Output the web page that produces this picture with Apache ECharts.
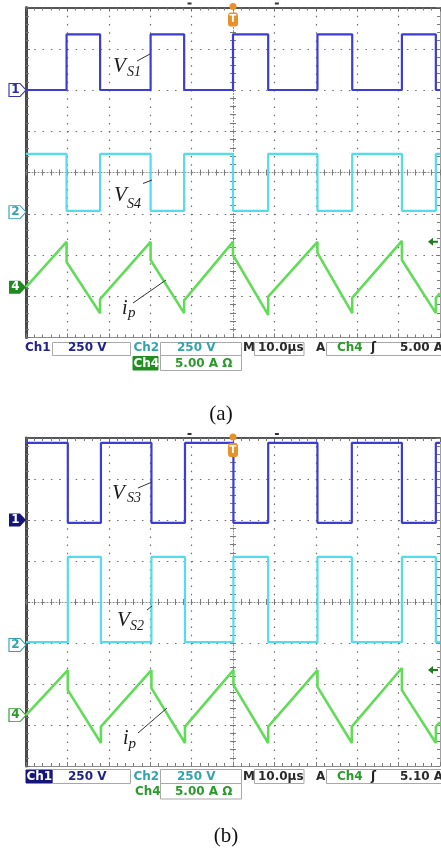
<!DOCTYPE html>
<html><head><meta charset="utf-8">
<script src="https://cdn.jsdelivr.net/npm/echarts@6/dist/echarts.min.js"></script>
<style>html,body{margin:0;padding:0;background:#fff}#c{width:441px;height:849px}</style>
</head><body><div id="c"></div>
<script>
// ---- values ----
// time in µs relative to the trigger (10 µs/div), level in divisions from screen centre
// panel (a)
const aRise = [-40.2, -19.9, 0.0, 20.4, 40.8];   // Ch1 rising edges = ip peaks
const aFall = [-32.1, -11.8, 8.5, 28.8, 49.0];   // Ch1 falling edges = ip troughs
const aCh1Low = 2.0, aCh1High = 3.35;
const aCh2Low = -0.93, aCh2High = 0.45;
const aIpStart = -2.78, aIpEnd = -2.93;
const aIpPeak = [-1.68, -1.68, -1.68, -1.68, -1.66];
const aIpDrop = [-2.17, -2.12, -2.00, -1.95, -2.12];
const aIpTrough = [-3.41, -3.41, -3.45, -3.41, -3.41];
const aIpJump = [-3.07, -3.10, -3.01, -3.04, -3.04];
// panel (b)
const bFall = [-39.9, -19.7, 0.1, 20.4, 40.8];   // Ch1 falling edges = ip peaks
const bRise = [-31.9, -11.6, 8.5, 28.7, 49.0];   // Ch1 rising edges = ip troughs
const bCh1Low = 1.93, bCh1High = 3.88;
const bCh2Low = -0.98, bCh2High = 1.10;
const bIpStart = -2.76, bIpEnd = -2.93;
const bIpPeak = [-1.66, -1.66, -1.66, -1.66, -1.61];
const bIpDrop = [-2.15, -2.10, -2.02, -2.07, -2.15];
const bIpTrough = [-3.44, -3.44, -3.44, -3.44, -3.44];
const bIpJump = [-3.04, -3.04, -3.04, -3.04, -3.04];
// channel ground markers [Ch1, Ch2, Ch4] and trigger level
const aMarks = [2.0, -0.96, -2.78];
const bMarks = [2.0, -1.05, -2.76];
const aTrig = -1.68, bTrig = -1.66;
const cursorT = [-10.5, 10.6];
// status bar texts
const aStatus = ['Ch1', '250 V', 'Ch2', '250 V', 'M', '10.0\u00b5s', 'A', 'Ch4', '\u0283', '5.00 A', 'Ch4', '5.00 A \u03a9'];
const bStatus = ['Ch1', '250 V', 'Ch2', '250 V', 'M', '10.0\u00b5s', 'A', 'Ch4', '\u0283', '5.10 A', 'Ch4', '5.00 A \u03a9'];

// ---- build point lists from the values above ----
function square(firstEdges, secondEdges, startV, otherV) {
  const pts = [[-50, startV]];
  for (let i = 0; i < firstEdges.length; i++) {
    pts.push([firstEdges[i], startV], [firstEdges[i], otherV], [secondEdges[i], otherV], [secondEdges[i], startV]);
  }
  pts.push([50, startV]);
  return pts;
}
function tri(peaks, troughs, start, end, pk, drop, tr, jump) {
  const pts = [[-50, start]];
  for (let i = 0; i < peaks.length; i++) {
    pts.push([peaks[i], pk[i]], [peaks[i], drop[i]], [troughs[i], tr[i]], [troughs[i], jump[i]]);
  }
  pts.push([50, end]);
  return pts;
}
const ch1A = square(aRise, aFall, aCh1Low, aCh1High);
const ch2A = square(aRise, aFall, aCh2High, aCh2Low);
const ipA = tri(aRise, aFall, aIpStart, aIpEnd, aIpPeak, aIpDrop, aIpTrough, aIpJump);
const ch1B = square(bFall, bRise, bCh1High, bCh1Low);
const ch2B = square(bFall, bRise, bCh2Low, bCh2High);
const ipB = tri(bFall, bRise, bIpStart, bIpEnd, bIpPeak, bIpDrop, bIpTrough, bIpJump);

const BLUE = '#3c3cd6', CYAN = '#52dcec', GREEN = '#62dc58';
const NAVY = '#22228c', TEAL = '#33a3ae', DGREEN = '#2b9b2b';
const GND = 'path://M0,0L11,0L17,6.5L11,13L0,13Z';
const ARROW = 'path://M0,4L5,0L5,3L10,3L10,5L5,5L5,8Z';

function axes(g, vPeriod) {
  const tickC = '#7a7a7a', dotC = '#6e6e6e';
  const bx = {gridIndex: g, type: 'value', min: -50, max: 50, interval: 10, axisLabel: {show: false}, splitLine: {show: false}};
  const by = {gridIndex: g, type: 'value', min: -4, max: 4, interval: 1, axisLabel: {show: false}, splitLine: {show: false}};
  const minor = (len, c) => ({show: true, splitNumber: 5, length: len, lineStyle: {color: c || tickC}});
  const xs = [
    Object.assign({}, bx, {position: 'bottom', axisLine: {onZero: false, lineStyle: {color: '#8c8c8c', width: 1}},
      axisTick: {inside: true, length: 4, lineStyle: {color: tickC}}, minorTick: minor(3),
      splitLine: {show: true, lineStyle: {color: dotC, width: 1.2, type: [1.5, vPeriod - 1.5]}}}),
    Object.assign({}, bx, {position: 'top', axisLine: {onZero: false, lineStyle: {color: '#555', width: 2}},
      axisTick: {inside: true, length: 4, lineStyle: {color: '#666'}}, minorTick: minor(3, '#777')}),
    Object.assign({}, bx, {position: 'bottom', axisLine: {onZero: true, lineStyle: {color: '#8a8a8a', width: 1, type: [1, 2]}},
      axisTick: {inside: true, length: 3, lineStyle: {color: tickC}}, minorTick: minor(3)}),
    Object.assign({}, bx, {position: 'bottom', axisLine: {onZero: true, lineStyle: {color: 'rgba(0,0,0,0)'}},
      axisTick: {inside: false, length: 3, lineStyle: {color: tickC}}, minorTick: minor(3)})
  ];
  const ys = [
    Object.assign({}, by, {position: 'left', axisLine: {onZero: false, lineStyle: {color: '#4a4a4a', width: 3}},
      axisTick: {inside: true, length: 4, lineStyle: {color: '#666'}}, minorTick: minor(3, '#777'),
      splitLine: {show: true, lineStyle: {color: dotC, width: 1.2, type: [1.5, 8.28 - 1.5]}}}),
    Object.assign({}, by, {position: 'right', axisLine: {onZero: false, lineStyle: {color: '#a0a0a0', width: 1}},
      axisTick: {inside: true, length: 4, lineStyle: {color: tickC}}, minorTick: minor(3)}),
    Object.assign({}, by, {position: 'left', axisLine: {onZero: true, lineStyle: {color: '#8a8a8a', width: 1, type: [1, 2]}},
      axisTick: {inside: true, length: 3, lineStyle: {color: tickC}}, minorTick: minor(3)}),
    Object.assign({}, by, {position: 'left', axisLine: {onZero: true, lineStyle: {color: 'rgba(0,0,0,0)'}},
      axisTick: {inside: false, length: 3, lineStyle: {color: tickC}}, minorTick: minor(3)})
  ];
  return {xs, ys};
}
const axA = axes(0, 8.25), axB = axes(1, 8.2);

function gndMark(level, text, filled, col, txtCol) {
  return {coord: [-50, level], symbol: GND, symbolSize: [17, 13], symbolOffset: [-8.5, 0],
    itemStyle: filled ? {color: col} : {color: '#fff', borderColor: col, borderWidth: 1},
    label: {show: true, position: 'inside', formatter: text, color: filled ? '#fff' : txtCol,
      fontSize: 12, fontWeight: 'bold', fontFamily: 'DejaVu Sans', offset: [-2, 0]}};
}
function trigMarks(trig) {
  return [
    {coord: [50, trig], symbol: ARROW, symbolSize: [10, 8], symbolOffset: [-7, 0], itemStyle: {color: '#1e7e1e'}, label: {show: false}},
    {coord: [0, 4], symbol: 'circle', symbolSize: 7, symbolOffset: [0, -1], itemStyle: {color: '#e8902a'}, label: {show: false}},
    {coord: [0, 4], symbol: 'roundRect', symbolSize: [10, 14], symbolOffset: [0, 12], itemStyle: {color: '#e8902a'},
      label: {show: true, position: 'inside', formatter: 'T', color: '#fff', fontSize: 10, fontWeight: 'bold', fontFamily: 'DejaVu Sans'}},
    {coord: [cursorT[0], 4], symbol: 'rect', symbolSize: [4, 2], symbolOffset: [0, -4], itemStyle: {color: '#333'}, label: {show: false}},
    {coord: [cursorT[1], 4], symbol: 'rect', symbolSize: [4, 2], symbolOffset: [0, -4], itemStyle: {color: '#333'}, label: {show: false}}
  ];
}
function lineSeries(g, data, color, width, marks, z) {
  return {type: 'line', xAxisIndex: 4 * g, yAxisIndex: 4 * g, data: data, symbol: 'none', showSymbol: false,
    lineStyle: {color: color, width: width}, animation: false, z: z, silent: true,
    markPoint: {animation: false, silent: true, data: marks}};
}

// ---- graphic: annotations, status bars, captions ----
const SANS = '"DejaVu Sans", sans-serif', SERIF = '"Liberation Serif", "DejaVu Serif", serif';
function txt(x, y, text, font, fill, align) {
  return {type: 'text', x: x, y: y, z: 100, silent: true,
    style: {text: text, font: font, fill: fill, textAlign: align || 'left', textVerticalAlign: 'middle', align: align || 'left', verticalAlign: 'middle'}};
}
function box(x, y, w, h, fill, stroke) {
  return {type: 'rect', z: 90, silent: true, shape: {x: x, y: y, width: w, height: h}, style: {fill: fill || '#fff', stroke: stroke || '#a8a8a8', lineWidth: 1}};
}
function leader(x1, y1, x2, y2) {
  return {type: 'line', z: 100, silent: true, shape: {x1: x1, y1: y1, x2: x2, y2: y2}, style: {stroke: '#333', lineWidth: 1}};
}
function label(xV, yV, xS, yS, main, sub, fm, fs) {
  return [txt(xV, yV, main, 'italic ' + fm + 'px ' + SERIF, '#1a1a1a'), txt(xS, yS, sub, 'italic ' + fs + 'px ' + SERIF, '#1a1a1a')];
}
function status(s, r1, r2, top, mid, bot, ch1Hi, ch4Hi) {
  const B = 'bold 12px ' + SANS;
  const g = [];
  g.push(box(52.5, top, 78, mid - top), box(160.5, top, 81, mid - top), box(254.5, top, 49.5, mid - top), box(326.5, top, 115, mid - top));
  g.push(box(160.5, mid, 81, bot - mid));
  if (ch1Hi) g.push(box(26, top + 0.5, 26, mid - top - 1, '#15157a', '#15157a'));
  if (ch4Hi) g.push(box(133, mid + 1, 25, bot - mid - 1.5, '#1f8f1f', '#1f8f1f'));
  g.push(txt(ch1Hi ? 26.5 : 25, r1, s[0], B, ch1Hi ? '#fff' : NAVY));
  g.push(txt(68, r1, s[1], B, NAVY));
  g.push(txt(133.5, r1, s[2], B, TEAL));
  g.push(txt(177, r1, s[3], B, TEAL));
  g.push(txt(243, r1, s[4], B, '#2a2a2a'));
  g.push(txt(258, r1, s[5], B, '#2a2a2a'));
  g.push(txt(316, r1, s[6], B, '#2a2a2a'));
  g.push(txt(337, r1, s[7], B, DGREEN));
  g.push(txt(371, r1, s[8], B, '#222'));
  g.push(txt(400, r1, s[9], B, '#2a2a2a'));
  g.push(txt(ch4Hi ? 133.5 : 135, r2, s[10], B, ch4Hi ? '#fff' : DGREEN));
  g.push(txt(175, r2, s[11], B, DGREEN));
  return g;
}
const graphic = [].concat(
  label(113, 66, 127, 72.4, 'V', 'S1', 21, 14), [leader(137, 61, 150, 54)],
  label(114, 195.8, 127, 204.7, 'V', 'S4', 21, 14), [leader(143, 183.5, 152, 180)],
  label(122, 309, 128, 313.5, 'i', 'p', 20, 15), [leader(133, 303, 166, 280)],
  status(aStatus, 348, 363.5, 342.5, 355.5, 370.5, false, true),
  [txt(221, 414, '(a)', '21px ' + SERIF, '#111', 'center')],
  label(112, 493.8, 127, 498.7, 'V', 'S3', 21, 14), [leader(138, 488, 152, 482)],
  label(117, 620.4, 130, 626.4, 'V', 'S2', 21, 14), [leader(147, 610, 152, 606)],
  label(123, 739, 128.5, 744.4, 'i', 'p', 20, 15), [leader(138, 733, 167, 708)],
  status(bStatus, 776.5, 791.5, 769.5, 783.5, 799, true, false),
  [txt(226, 836, '(b)', '21px ' + SERIF, '#111', 'center')]
);

const chart = echarts.init(document.getElementById('c'), null, {renderer: 'canvas'});
chart.setOption({
  backgroundColor: '#fff',
  animation: false,
  grid: [
    {left: 26, top: 7.5, width: 414, height: 330, outerBoundsMode: 'none', containLabel: false},
    {left: 26, top: 438, width: 414, height: 328, outerBoundsMode: 'none', containLabel: false}
  ],
  xAxis: axA.xs.concat(axB.xs),
  yAxis: axA.ys.concat(axB.ys),
  series: [
    lineSeries(0, ch2A, CYAN, 2.2, [gndMark(aMarks[1], '2', false, TEAL, TEAL)], 3),
    lineSeries(0, ch1A, BLUE, 2.2, [gndMark(aMarks[0], '1', false, '#3434b4', '#2a2aa6')], 4),
    lineSeries(0, ipA, GREEN, 2.6, [gndMark(aMarks[2], '4', true, '#1f8a1f', '#fff')].concat(trigMarks(aTrig)), 5),
    lineSeries(1, ch2B, CYAN, 2.2, [gndMark(bMarks[1], '2', false, TEAL, TEAL)], 3),
    lineSeries(1, ch1B, BLUE, 2.2, [gndMark(bMarks[0], '1', true, '#15157a', '#fff')], 4),
    lineSeries(1, ipB, GREEN, 2.6, [gndMark(bMarks[2], '4', false, DGREEN, DGREEN)].concat(trigMarks(bTrig)), 5)
  ],
  graphic: graphic
});
</script></body></html>
